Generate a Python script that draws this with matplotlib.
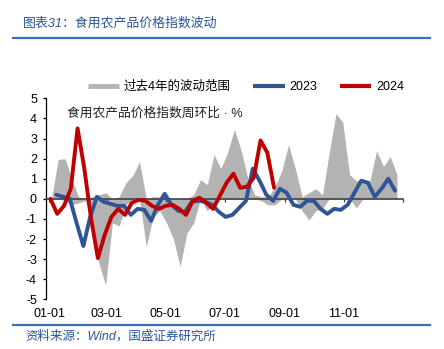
import numpy as np
import matplotlib
matplotlib.use("Agg")
import matplotlib.pyplot as plt
from matplotlib.lines import Line2D

plt.rcParams['font.family'] = ['Liberation Sans', 'Noto Sans CJK SC']
plt.rcParams['axes.unicode_minus'] = False

# ---- data (day of year for weekly observations) ----
gray_days = np.arange(2, 2 + 7 * 52, 7)
gray_high = [0.0, 1.95, 2.0, 1.0, 0.1, 0.0, 0.1, 0.2, 0.3, 0.0,
             0.1, 0.8, 1.15, 1.85, 0.0, 0.1, 0.1, 0.0, 0.0, 0.0,
             0.0, 0.2, 0.95, 0.7, 2.2, 1.5, 2.3, 3.45, 2.4, 1.0,
             0.2, 0.1, 0.1, 0.6, 1.4, 2.7, 1.5, 0.1, 0.3, 0.5,
             0.2, 2.3, 4.25, 3.8, 1.2, 0.9, 0.9, 0.9, 2.4, 1.6,
             2.1, 1.2]
gray_low = [0.0, 0.0, -0.1, -0.3, -0.2, -0.1, -1.2, -3.2, -4.3, -1.2,
            -1.35, -0.3, 0.0, 0.0, -2.4, -0.9, -0.6, -1.2, -2.0, -3.35,
            -1.7, -1.2, 0.0, -0.6, -0.2, 0.0, 0.0, 0.0, 0.0, 0.0,
            0.0, -0.1, -0.3, -0.3, 0.0, 0.0, 0.0, -0.6, -1.05, -0.6,
            -0.5, 0.0, 0.0, 0.0, 0.0, -0.45, 0.0, 0.0, 0.0, 0.0,
            0.0, 0.0]

days_2023 = np.arange(7, 7 + 7 * 51, 7)
vals_2023 = [0.2, 0.1, 0.0, -1.2, -2.35, -0.9, 0.1, -0.15, -0.25, -0.35,
             -0.35, -0.8, -0.5, -0.55, -1.1, -0.3, 0.25, -0.3, -0.6, -0.65,
             -0.15, -0.1, -0.15, -0.3, -0.65, -0.9, -0.8, -0.45, -0.1, 1.5,
             0.9, 0.2, -0.1, 0.5, 0.3, -0.3, -0.4, -0.1, -0.1, -0.5,
             -0.75, -0.5, -0.55, -0.3, 0.3, 0.9, 0.8, 0.1, 0.5, 1.0,
             0.4]

days_2024 = np.arange(1, 1 + 7 * 34, 7)
vals_2024 = [0.0, -0.75, -0.35, 0.5, 3.5, 1.5, -1.0, -2.95, -1.8, -0.9,
             -0.5, -0.8, -0.2, -0.05, -0.1, -0.35, -0.5, -0.35, -0.3, -0.5,
             -0.8, -0.1, 0.05, -0.2, -0.5, 0.15, 0.8, 1.25, 0.55, 0.6,
             1.05, 2.9, 2.3, 0.55]

tick_days = [0, 59, 120, 181, 243, 304]
tick_labels = ['01-01', '03-01', '05-01', '07-01', '09-01', '11-01']
y_ticks = list(range(-5, 6))
y_labels = [str(v) for v in y_ticks]

legend_labels = ['过去4年的波动范围', '2023', '2024']
title = '图表31：食用农产品价格指数波动'
note = '食用农产品价格指数周环比 · %'
source = '资料来源：Wind，国盛证券研究所'

GRAY = '#B3B3B3'
BLUE = '#2F5597'
RED = '#C00000'
TBLUE = '#2A5699'
LBLUE = '#3F6DB3'

W, H = 444, 349
fig = plt.figure(figsize=(W / 100, H / 100), dpi=100)
fig.patch.set_facecolor('white')

ax = fig.add_axes([46.3 / W, 1 - 299.3 / H, (403 - 46.3) / W, (299.3 - 98.3) / H])
ax.set_xlim(-3.3, 365.2)
ax.set_ylim(-5, 5)

ax.fill_between(gray_days, gray_low, gray_high, color=GRAY, lw=0, zorder=1)
ax.plot(days_2023, vals_2023, color=BLUE, lw=2.8, solid_capstyle='round',
        solid_joinstyle='round', zorder=3)
ax.plot(days_2024, vals_2024, color=RED, lw=2.8, solid_capstyle='round',
        solid_joinstyle='round', zorder=4)

for s in ['top', 'right']:
    ax.spines[s].set_visible(False)
ax.spines['left'].set_color('black')
ax.spines['left'].set_linewidth(0.9)
ax.spines['bottom'].set_position(('data', 0))
ax.spines['bottom'].set_color('#404040')
ax.spines['bottom'].set_linewidth(1.2)
ax.spines['bottom'].set_zorder(2.5)

ax.set_xticks(tick_days + [365])
ax.tick_params(axis='x', direction='out', length=2.4, width=0.9, color='#404040',
               labelbottom=False)
ax.set_yticks(y_ticks)
ax.set_yticklabels(y_labels)
ax.tick_params(axis='y', direction='out', length=2.4, width=0.9, pad=4.3,
               labelsize=9, colors='black')

sec = ax.secondary_xaxis('bottom')
sec.set_xticks(tick_days)
sec.set_xticklabels(tick_labels)
sec.spines['bottom'].set_visible(False)
sec.tick_params(length=0, pad=6.3, labelsize=9)

# legend
handles = [Line2D([], [], color=GRAY, lw=3.5, solid_capstyle='butt'),
           Line2D([], [], color=BLUE, lw=3, solid_capstyle='butt'),
           Line2D([], [], color=RED, lw=3, solid_capstyle='butt')]
fig.legend(handles, legend_labels, loc='center', bbox_to_anchor=(246 / W, 1 - 87 / H),
           ncol=3, frameon=False, fontsize=9, handlelength=2.5, handletextpad=0.4,
           columnspacing=1.8, borderpad=0.2)

fig.text(66.7 / W, 1 - 114 / H, note, fontsize=9.2, color='#222222', ha='left', va='center')

# title and source
fig.text(23 / W, 1 - 24 / H, title, fontsize=9.3, color=TBLUE, style='italic',
         ha='left', va='center')
fig.add_artist(Line2D([13 / W, 430 / W], [1 - 37.7 / H, 1 - 37.7 / H],
                      color=LBLUE, lw=1.6, transform=fig.transFigure))
fig.add_artist(Line2D([13 / W, 430 / W], [1 - 325 / H, 1 - 325 / H],
                      color=LBLUE, lw=1.6, transform=fig.transFigure))
fig.text(25 / W, 1 - 336 / H, source, fontsize=9, color=TBLUE, style='italic',
         ha='left', va='center')

fig.savefig('out.png', dpi=100, facecolor='white')
